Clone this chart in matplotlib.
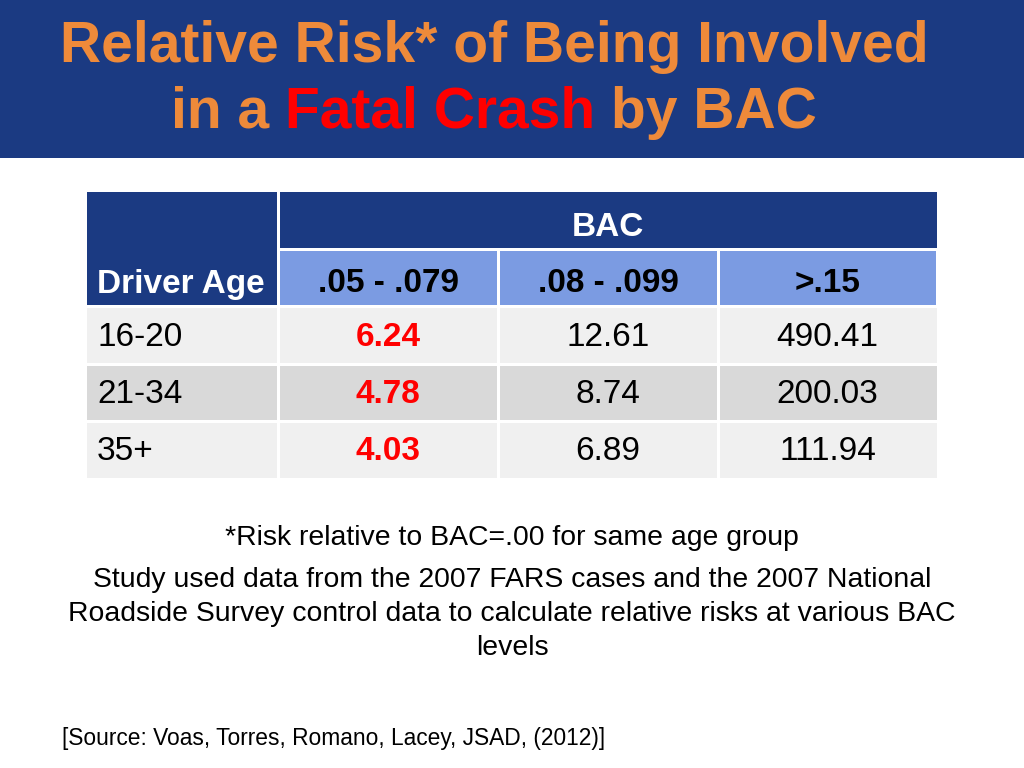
import matplotlib
matplotlib.use("Agg")
import matplotlib.pyplot as plt
from matplotlib.patches import Rectangle
from matplotlib import font_manager

names = {f.name for f in font_manager.fontManager.ttflist}
NARROW = "Liberation Sans Narrow" if "Liberation Sans Narrow" in names else "Liberation Sans"
SANS = "Liberation Sans"

age_groups = ["16-20", "21-34", "35+"]
bac_levels = [".05 - .079", ".08 - .099", ">.15"]
risk_05_079 = [6.24, 4.78, 4.03]
risk_08_099 = [12.61, 8.74, 6.89]
risk_gt_15 = [490.41, 200.03, 111.94]

DARK = "#1B3A82"
LIGHT = "#7B9BE2"
ORANGE = "#EE8A3A"
RED = "#FF0000"
ROW_COLORS = ["#F0F0F0", "#D9D9D9", "#F0F0F0"]

TSIZE = 44 if NARROW != "Liberation Sans" else 41
TS = 24

fig = plt.figure(figsize=(10.24, 7.68), dpi=100)
ax = fig.add_axes([0, 0, 1, 1])
ax.set_xlim(0, 1024)
ax.set_ylim(768, 0)
ax.axis("off")

# header band
ax.add_patch(Rectangle((0, 0), 1024, 158, color=DARK, lw=0))
ax.text(494, 47, "Relative Risk* of Being Involved", ha="center", va="center",
        color=ORANGE, fontsize=TSIZE, fontweight="bold", family=NARROW)
parts = [("in a ", ORANGE), ("Fatal Crash", RED), (" by BAC", ORANGE)]
fig.canvas.draw()
r = fig.canvas.get_renderer()
widths = []
for s, c in parts:
    t = ax.text(0, 0, s, fontsize=TSIZE, fontweight="bold", family=NARROW)
    widths.append(t.get_window_extent(renderer=r).width)
    t.remove()
x = 494 - sum(widths) / 2
for (s, c), w in zip(parts, widths):
    ax.text(x, 113, s, ha="left", va="center", color=c, fontsize=TSIZE,
            fontweight="bold", family=NARROW)
    x += w

# table geometry
col_edges = [87, 278, 498, 718, 937]
hdr_top, hdr_mid, sub_bot = 192, 249, 306
row_edges = [306, 364, 421, 479]
gap = 1.5

ax.add_patch(Rectangle((col_edges[0], hdr_top), col_edges[1] - col_edges[0] - gap,
                       sub_bot - hdr_top - gap, color=DARK, lw=0))
ax.text(97, 284, "Driver Age", ha="left", va="center", color="white",
        fontsize=TS, fontweight="bold", family=SANS)
ax.add_patch(Rectangle((col_edges[1] + gap, hdr_top), col_edges[4] - col_edges[1] - gap,
                       hdr_mid - hdr_top - gap, color=DARK, lw=0))
ax.text((col_edges[1] + col_edges[4]) / 2, 227, "BAC", ha="center", va="center",
        color="white", fontsize=TS, fontweight="bold", family=SANS)
for j, lab in enumerate(bac_levels):
    x0, x1 = col_edges[j + 1], col_edges[j + 2]
    ax.add_patch(Rectangle((x0 + gap, hdr_mid + gap), x1 - x0 - 2 * gap,
                           sub_bot - hdr_mid - 2 * gap, color=LIGHT, lw=0))
    ax.text((x0 + x1) / 2, 284, lab, ha="center", va="center", color="black",
            fontsize=TS, fontweight="bold", family=SANS)

cols = [risk_05_079, risk_08_099, risk_gt_15]
for i, age in enumerate(age_groups):
    y0, y1 = row_edges[i], row_edges[i + 1]
    yc = (y0 + y1) / 2 + 2
    for j in range(4):
        x0, x1 = col_edges[j], col_edges[j + 1]
        lg = gap if j > 0 else 0
        rg = gap if j < 3 else 0
        ax.add_patch(Rectangle((x0 + lg, y0 + gap), x1 - x0 - lg - rg,
                               y1 - y0 - 2 * gap, color=ROW_COLORS[i], lw=0))
    ax.text(97, yc, age, ha="left", va="center", color="black", fontsize=TS, family=SANS)
    for j, vals in enumerate(cols):
        xc = (col_edges[j + 1] + col_edges[j + 2]) / 2
        if j == 0:
            ax.text(xc, yc, f"{vals[i]:.2f}", ha="center", va="center", color=RED,
                    fontsize=TS, fontweight="bold", family=SANS)
        else:
            ax.text(xc, yc, f"{vals[i]:.2f}", ha="center", va="center", color="black",
                    fontsize=TS, family=SANS)

# footnotes
ax.text(512, 538, "*Risk relative to BAC=.00 for same age group", ha="center", va="center",
        fontsize=20.4, family=SANS)
ax.text(512, 614, "Study used data from the 2007 FARS cases and the 2007 National\n"
        "Roadside Survey control data to calculate relative risks at various BAC\nlevels",
        ha="center", va="center", fontsize=20.4, family=SANS, linespacing=1.38)
ax.text(62, 738, "[Source: Voas, Torres, Romano, Lacey, JSAD, (2012)]", ha="left",
        va="center", fontsize=16.4, family=SANS)

fig.savefig("out.png", dpi=100)
